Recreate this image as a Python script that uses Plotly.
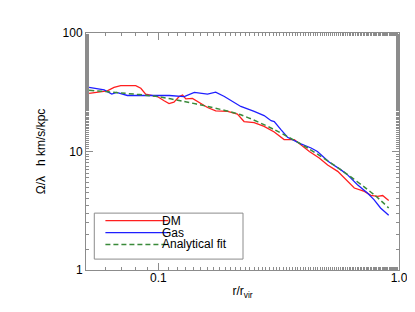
import plotly.graph_objects as go

# ---- data ----
r_dm = [0.0515, 0.0613, 0.0654, 0.0697, 0.0805, 0.0845, 0.0885, 0.099, 0.1056, 0.1107,
        0.116, 0.122, 0.126, 0.130, 0.1385, 0.150, 0.160, 0.173, 0.194, 0.213, 0.227,
        0.250, 0.275, 0.303, 0.333, 0.367, 0.391, 0.424, 0.466, 0.505, 0.556, 0.593,
        0.652, 0.718, 0.764, 0.815, 0.855, 0.906]
v_dm = [31.0, 32.5, 34.7, 36.0, 36.0, 34.2, 30.5, 29.1, 26.8, 25.4,
        26.1, 29.1, 30.0, 27.8, 28.1, 25.6, 23.5, 22.0, 21.8, 20.7, 17.9,
        17.5, 16.3, 14.6, 12.6, 12.6, 11.3, 10.0, 8.8, 7.7, 6.8, 5.98,
        4.92, 4.61, 4.27, 4.19, 4.25, 3.85]

r_gas = [0.0515, 0.0595, 0.0640, 0.0670, 0.0743, 0.099, 0.111, 0.128, 0.141, 0.160,
         0.173, 0.188, 0.220, 0.250, 0.275, 0.294, 0.303, 0.323, 0.344, 0.391, 0.431,
         0.458, 0.512, 0.574, 0.610, 0.672, 0.739, 0.787, 0.838, 0.906]
v_gas = [34.7, 33.1, 30.5, 31.5, 29.7, 29.5, 29.7, 29.1, 31.5, 30.5,
         31.7, 29.1, 24.0, 21.8, 20.1, 18.2, 17.9, 15.3, 13.2, 11.6, 10.7,
         10.0, 8.15, 7.0, 6.38, 5.25, 4.47, 3.93, 3.34, 2.90]

r_fit = [0.0515, 0.07, 0.1, 0.128, 0.16, 0.22, 0.303, 0.417, 0.574, 0.787, 0.906]
v_fit = [32.9, 31.2, 29.0, 26.4, 24.0, 20.4, 15.3, 10.7, 7.0, 4.33, 3.34]

series_names = ["DM", "Gas", "Analytical fit"]
series_colors = ["#ff1f1f", "#1f1fff", "#3a8a3a"]

x_tickvals = [0.1, 1.0]
x_ticktext = ["0.1", "1.0"]
y_tickvals = [1, 10, 100]
y_ticktext = ["1", "10", "100"]

FONT = "Liberation Sans, Arial, Helvetica, sans-serif"

fig = go.Figure()
fig.add_trace(go.Scatter(x=r_dm, y=v_dm, mode="lines", name=series_names[0],
                         line=dict(color=series_colors[0], width=1.3)))
fig.add_trace(go.Scatter(x=r_gas, y=v_gas, mode="lines", name=series_names[1],
                         line=dict(color=series_colors[1], width=1.3)))
fig.add_trace(go.Scatter(x=r_fit, y=v_fit, mode="lines", name=series_names[2],
                         line=dict(color=series_colors[2], width=1.5, dash="5px,3px",
                                   shape="spline", smoothing=0.8)))

axis_common = dict(
    showgrid=False, zeroline=False, showline=True, linecolor="#8c8c8c", linewidth=1,
    mirror="ticks", ticks="inside", ticklen=7, tickcolor="#8c8c8c", tickwidth=1,
    tickfont=dict(family=FONT, size=12, color="black"),
    minor=dict(ticks="inside", ticklen=3, tickcolor="#8c8c8c", tickwidth=1, showgrid=False),
)

fig.update_xaxes(type="log", range=[-1.301, 0.0], tickvals=x_tickvals, ticktext=x_ticktext,
                 ticklabelstandoff=-3,
                 title=dict(text="r/r<sub>vir</sub>", font=dict(family=FONT, size=12, color="black"),
                            standoff=2),
                 **axis_common)
fig.update_yaxes(type="log", range=[0, 2], tickvals=y_tickvals, ticktext=y_ticktext,
                 title=dict(text="Ω/λ   h km/s/kpc", font=dict(family=FONT, size=12, color="black"),
                            standoff=14),
                 **axis_common)

# manual compact legend (IDL style)
lx0, lx1, ly0, ly1 = 0.0265, 0.5016, 0.046, 0.240
shapes = [dict(type="rect", xref="paper", yref="paper", x0=lx0, x1=lx1, y0=ly0, y1=ly1,
               line=dict(color="#8c8c8c", width=1), fillcolor="white", layer="above")]
rows = [0.208, 0.158, 0.108]
dashes = ["solid", "solid", "5px,3px"]
annotations = []
for name, col, yy, dsh in zip(series_names, series_colors, rows, dashes):
    shapes.append(dict(type="line", xref="paper", yref="paper", x0=0.062, x1=0.263, y0=yy, y1=yy,
                       line=dict(color=col, width=1.3 if dsh == "solid" else 1.5, dash=dsh),
                       layer="above"))
    annotations.append(dict(x=0.237, y=yy, xref="paper", yref="paper", text=name,
                            showarrow=False, xanchor="left", yanchor="middle",
                            font=dict(family=FONT, size=12, color="black")))

fig.update_layout(
    width=415, height=312,
    margin=dict(l=78, r=24, t=25, b=50),
    paper_bgcolor="white", plot_bgcolor="white",
    showlegend=False,
    shapes=shapes, annotations=annotations,
    font=dict(family=FONT, size=12, color="black"),
)

fig.write_html("out.html")
